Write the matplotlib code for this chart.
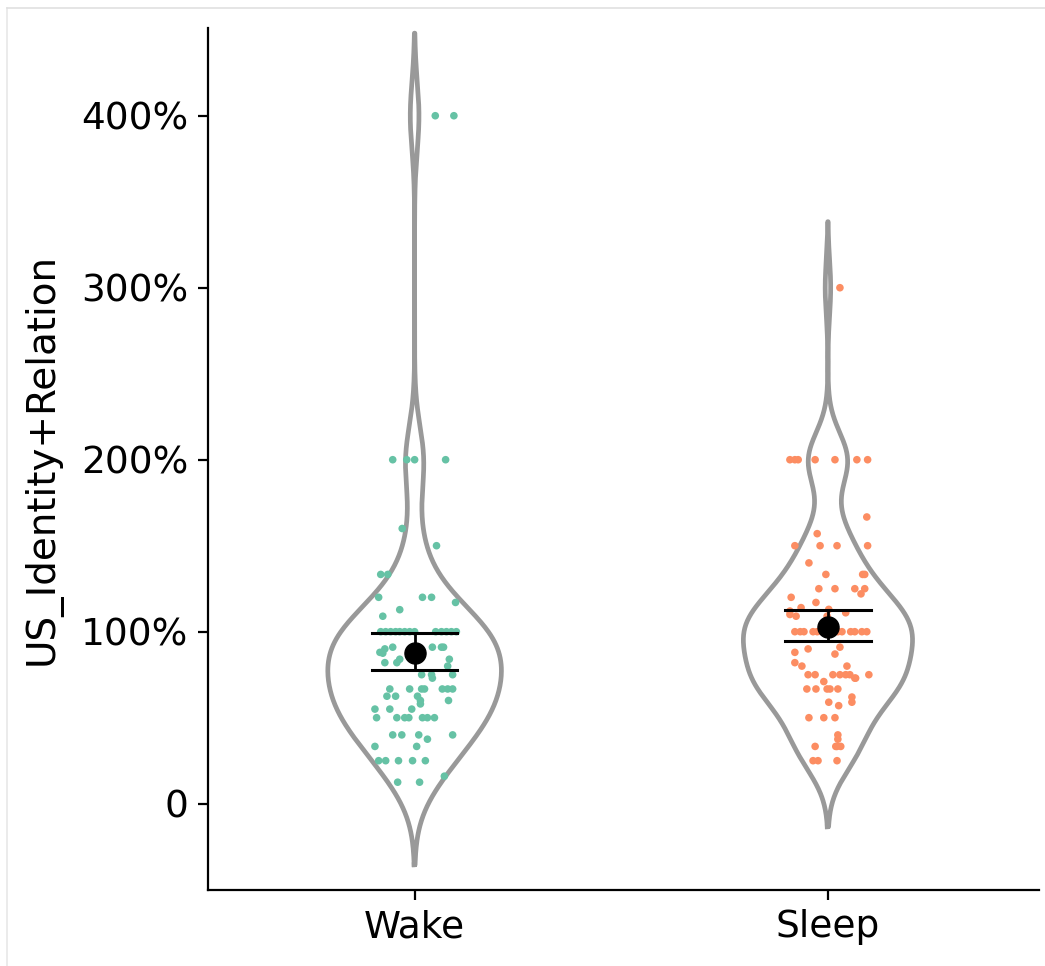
import numpy as np
import matplotlib.pyplot as plt
from matplotlib.lines import Line2D
from matplotlib.ticker import FuncFormatter

# groups
groups = ["Wake", "Sleep"]
colors = ["#66c2a5", "#fc8d62"]

# values (ratio, 1.0 = 100%)
wake_vals = [4.0, 4.0, 2.0, 2.0, 2.0, 2.0, 1.6, 1.5, 1.333, 1.333, 1.2, 1.2, 1.2, 1.17,
             1.128, 1.09,
             1.0, 1.0, 1.0, 1.0, 1.0, 1.0, 1.0, 1.0, 1.0, 1.0, 1.0, 1.0, 1.0,
             0.91, 0.91, 0.91, 0.91, 0.9, 0.9, 0.88, 0.875, 0.82, 0.82, 0.84, 0.84, 0.84, 0.8,
             0.75, 0.75, 0.75, 0.73,
             0.667, 0.667, 0.667, 0.667, 0.667, 0.667, 0.667,
             0.625, 0.625, 0.625, 0.6, 0.6, 0.58, 0.55, 0.55, 0.55,
             0.5, 0.5, 0.5, 0.5, 0.5, 0.5, 0.5,
             0.4, 0.4, 0.4, 0.4, 0.375, 0.333, 0.333,
             0.25, 0.25, 0.25, 0.25, 0.25, 0.16, 0.125, 0.125]
# horizontal jitter of each point (category units)
wake_jit = [0.05, 0.095, -0.053, -0.019, 0.0, 0.075, -0.03, 0.053, -0.082, -0.065, -0.087, 0.019, 0.041, 0.099,
            -0.036, -0.077,
            -0.082, -0.070, -0.058, -0.046, -0.036, -0.024, -0.012, 0.0, 0.051, 0.065, 0.077, 0.089, 0.101,
            -0.053, 0.043, 0.065, 0.070, -0.072, 0.010, -0.084, -0.077, -0.072, -0.043, -0.036, -0.007, 0.084, 0.080,
            0.017, 0.041, 0.092, 0.043,
            -0.060, -0.012, 0.017, 0.024, 0.067, 0.080, 0.092,
            -0.067, -0.046, 0.007, 0.014, 0.082, 0.014, -0.096, -0.060, -0.007,
            -0.092, -0.043, -0.024, -0.014, 0.019, 0.031, 0.048,
            -0.053, -0.031, 0.010, 0.092, 0.031, -0.096, 0.005,
            -0.087, -0.070, -0.039, -0.005, 0.026, 0.072, -0.041, 0.012]

sleep_vals = [3.0, 2.0, 2.0, 2.0, 2.0, 2.0, 2.0, 2.0, 1.667, 1.57, 1.5, 1.5, 1.5, 1.5, 1.4,
              1.333, 1.333, 1.333, 1.25, 1.25, 1.25, 1.25, 1.22, 1.2, 1.14, 1.17,
              1.12, 1.1, 1.09, 1.13, 1.09, 1.11,
              1.0, 1.0, 1.0, 1.0, 1.0, 1.0, 1.0, 1.0, 1.0, 1.0, 1.0, 1.0, 1.0, 1.0,
              0.9, 0.91, 0.87, 0.88, 0.82, 0.8, 0.8,
              0.75, 0.75, 0.75, 0.75, 0.75, 0.75, 0.75, 0.73, 0.73, 0.71,
              0.667, 0.667, 0.667, 0.667, 0.667, 0.62, 0.59, 0.59, 0.57,
              0.5, 0.5, 0.5, 0.4, 0.375, 0.333, 0.333, 0.333, 0.333,
              0.25, 0.25, 0.25]
sleep_jit = [0.029, -0.092, -0.080, -0.072, -0.031, 0.017, 0.070, 0.096, 0.094, -0.026, -0.080, -0.019, 0.022, 0.096, -0.046,
             -0.005, 0.084, 0.089, -0.022, 0.017, 0.065, 0.089, 0.080, -0.089, -0.065, -0.029,
             -0.092, -0.092, -0.077, 0.002, -0.002, 0.043,
             -0.080, -0.067, -0.058, -0.036, -0.026, -0.014, -0.005, 0.012, 0.024, 0.034, 0.055, 0.065, 0.082, 0.094,
             -0.048, 0.029, 0.017, -0.080, -0.080, -0.063, 0.046,
             -0.048, -0.031, 0.012, 0.029, 0.043, 0.053, 0.099, 0.067, 0.065, -0.010,
             -0.051, -0.029, -0.002, 0.005, 0.024, 0.058, 0.058, 0.002, 0.026,
             -0.046, -0.010, 0.017, 0.024, 0.024, -0.031, 0.019, 0.022, 0.031,
             -0.036, -0.024, 0.022]

# mean and error bar limits
means = [0.878, 1.03]
err_low = [0.779, 0.948]
err_high = [0.994, 1.128]

# kde bandwidth per group and how far the violin runs past the data
bandwidths = [0.2, 0.16]
cuts = [2.4, 2.4]

data = [np.array(wake_vals), np.array(sleep_vals)]
jit = [np.array(wake_jit), np.array(sleep_jit)]


def kde(x, grid, bw):
    z = (grid[:, None] - x[None, :]) / bw
    return np.exp(-0.5 * z ** 2).sum(axis=1) / (len(x) * bw * np.sqrt(2 * np.pi))


fig = plt.figure(figsize=(10.45, 9.66), dpi=100)
ax = fig.add_axes([0.199, 0.079, 0.795, 0.892])

# violins (untrimmed, area scaled)
dens = []
for d, bw, c in zip(data, bandwidths, cuts):
    grid = np.linspace(d.min() - c * bw, d.max() + c * bw, 512)
    dens.append((grid, kde(d, grid, bw)))
dmax = max(k.max() for _, k in dens)
half_w = 0.21
for i, (grid, k) in enumerate(dens):
    pos = i + 1
    w = k / dmax * half_w
    xs = np.concatenate([pos - w, (pos + w)[::-1], [pos - w[0]]])
    ys = np.concatenate([grid, grid[::-1], [grid[0]]])
    ax.plot(xs, ys, color="#999999", lw=3.4, solid_joinstyle="round", zorder=2)

# jittered points
for i in range(2):
    ax.scatter(i + 1 + jit[i], data[i], s=30, color=colors[i], edgecolors="none", zorder=3)

# mean + error bars
for i in range(2):
    pos = i + 1
    ax.plot([pos, pos], [err_low[i], err_high[i]], color="black", lw=2, zorder=4)
    for yv in (err_low[i], err_high[i]):
        ax.plot([pos - 0.103, pos + 0.103], [yv, yv], color="black", lw=2.2, zorder=4)
    ax.scatter([pos], [means[i]], s=230, color="black", zorder=5)

ax.set_xlim(0.5, 2.51)
ax.set_ylim(-0.5, 4.51)
ax.set_xticks([1, 2])
ax.set_xticklabels(groups)
ax.set_yticks([0, 1, 2, 3, 4])
ax.yaxis.set_major_formatter(FuncFormatter(lambda v, p: "0" if v == 0 else f"{v * 100:.0f}%"))
ax.set_ylabel("US_Identity+Relation", fontsize=28, labelpad=14)

for s in ["top", "right"]:
    ax.spines[s].set_visible(False)
for s in ["left", "bottom"]:
    ax.spines[s].set_linewidth(1.6)
ax.tick_params(axis="both", labelsize=27, width=1.6, length=7, pad=7)

# faint frame around the picture
fig.add_artist(Line2D([0.007, 0.007], [0.0, 0.992], color="#e8e8e8", lw=1.2, transform=fig.transFigure))
fig.add_artist(Line2D([0.007, 1.0], [0.992, 0.992], color="#e0e0e0", lw=1.2, transform=fig.transFigure))

fig.savefig("out.png", dpi=100)
